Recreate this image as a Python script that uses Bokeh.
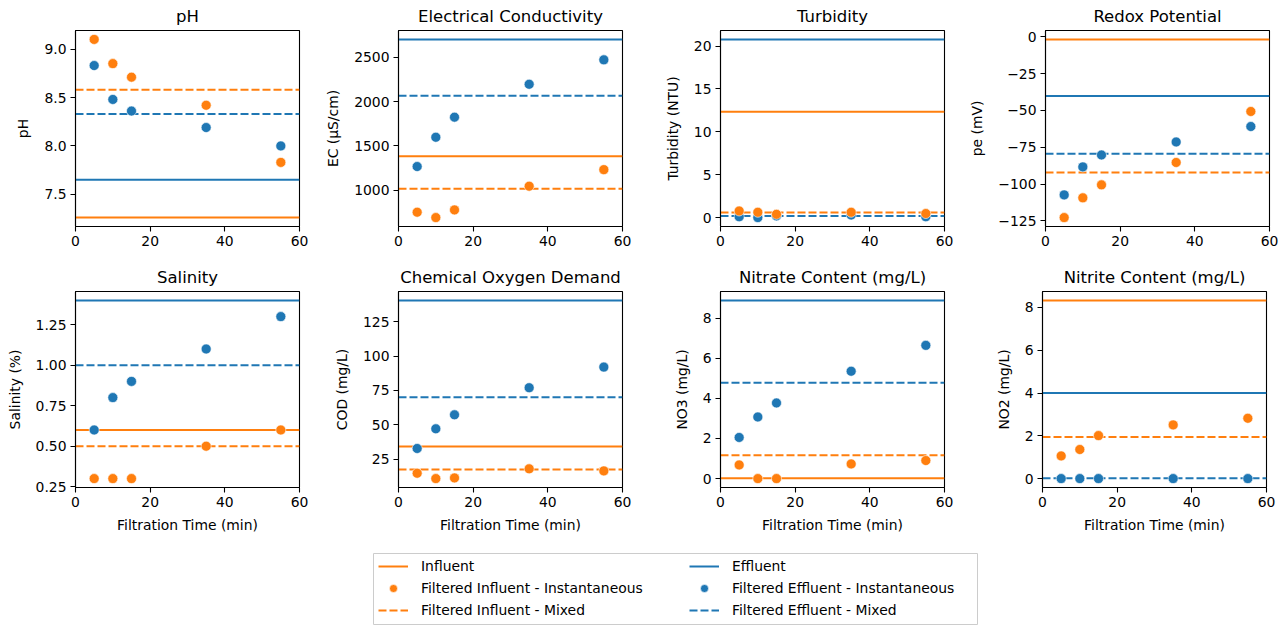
from bokeh.plotting import figure
from bokeh.layouts import column, row
from bokeh.models import (Span, FixedTicker, CustomJSTickFormatter, Legend,
                          LegendItem, Range1d, Spacer)
from bokeh.embed import file_html
from bokeh.resources import INLINE

# ---------------- data ----------------
time_min = [5, 10, 15, 35, 55]
x_ticks = [0, 20, 40, 60]

titles = ["pH", "Electrical Conductivity", "Turbidity", "Redox Potential",
          "Salinity", "Chemical Oxygen Demand", "Nitrate Content (mg/L)",
          "Nitrite Content (mg/L)"]
y_labels = ["pH", "EC (µS/cm)", "Turbidity (NTU)", "pe (mV)", "Salinity (%)",
            "COD (mg/L)", "NO3 (mg/L)", "NO2 (mg/L)"]

# horizontal reference levels, one per parameter
influent_level = [7.26, 1383, 12.34, -1.8, 0.60, 34.3, 0.02, 8.33]
effluent_level = [7.65, 2704, 20.78, -40.2, 1.40, 140.5, 8.88, 4.00]
inf_mixed_level = [8.58, 1015, 0.58, -92.1, 0.50, 17.5, 1.16, 1.95]
eff_mixed_level = [8.33, 2068, 0.19, -79.3, 1.00, 70.0, 4.78, 0.02]

# instantaneous samples
inf_inst_ph = [9.10, 8.85, 8.71, 8.42, 7.83]
eff_inst_ph = [8.83, 8.48, 8.36, 8.19, 8.00]
inf_inst_ec = [751, 690, 777, 1045, 1232]
eff_inst_ec = [1267, 1598, 1825, 2197, 2473]
inf_inst_turb = [0.77, 0.62, 0.38, 0.62, 0.47]
eff_inst_turb = [0.10, 0.00, 0.20, 0.30, 0.10]
inf_inst_redox = [-122.7, -109.3, -100.5, -85.3, -50.7]
eff_inst_redox = [-107.3, -88.3, -80.2, -71.4, -60.9]
inf_inst_sal = [0.3, 0.3, 0.3, 0.5, 0.6]
eff_inst_sal = [0.6, 0.8, 0.9, 1.1, 1.3]
inf_inst_cod = [14.8, 10.9, 11.4, 18.0, 16.5]
eff_inst_cod = [32.8, 47.1, 57.3, 77.0, 92.0]
inf_inst_no3 = [0.68, 0.00, 0.00, 0.73, 0.90]
eff_inst_no3 = [2.05, 3.07, 3.77, 5.35, 6.64]
inf_inst_no2 = [1.06, 1.36, 2.01, 2.51, 2.82]
eff_inst_no2 = [0.00, 0.00, 0.00, 0.00, 0.00]

inf_inst = [inf_inst_ph, inf_inst_ec, inf_inst_turb, inf_inst_redox,
            inf_inst_sal, inf_inst_cod, inf_inst_no3, inf_inst_no2]
eff_inst = [eff_inst_ph, eff_inst_ec, eff_inst_turb, eff_inst_redox,
            eff_inst_sal, eff_inst_cod, eff_inst_no3, eff_inst_no2]

y_ticks = [[7.5, 8.0, 8.5, 9.0],
           [1000, 1500, 2000, 2500],
           [0, 5, 10, 15, 20],
           [-125, -100, -75, -50, -25, 0],
           [0.25, 0.50, 0.75, 1.00, 1.25],
           [25, 50, 75, 100, 125],
           [0, 2, 4, 6, 8],
           [0, 2, 4, 6, 8]]
tick_decimals = [1, 0, 0, 0, 2, 0, 0, 0]

legend_labels = ["Influent", "Filtered Influent - Instantaneous",
                 "Filtered Influent - Mixed", "Effluent",
                 "Filtered Effluent - Instantaneous", "Filtered Effluent - Mixed"]

# ---------------- style ----------------
ORANGE = "#ff7f0e"
BLUE = "#1f77b4"
FONT = "DejaVu Sans"
DASH = "8 3"
LW = 2
PT_SIZE = 10

left_borders = [75, 76, 76, 76]
right_borders = [23, 22, 22, 20]

figs = []
for i in range(8):
    col = i % 4
    bottom_row = i >= 4
    vals = (inf_inst[i] + eff_inst[i] +
            [influent_level[i], effluent_level[i], inf_mixed_level[i], eff_mixed_level[i]])
    lo, hi = min(vals), max(vals)
    pad = 0.05 * (hi - lo)
    p = figure(frame_width=224, frame_height=196,
               min_border_left=left_borders[col], min_border_right=right_borders[col],
               min_border_top=30, min_border_bottom=50 if bottom_row else 35,
               x_range=Range1d(0, 60), y_range=Range1d(lo - pad, hi + pad),
               toolbar_location=None, output_backend="svg", title=titles[i])
    p.title.align = "center"
    p.title.text_font = FONT
    p.title.text_font_size = "16.5px"
    p.title.text_font_style = "normal"
    p.title.text_color = "black"
    p.title.standoff = 9
    p.grid.grid_line_color = None
    p.outline_line_color = "black"
    p.outline_line_width = 1.1
    p.outline_line_alpha = 1
    p.background_fill_color = "white"
    p.border_fill_color = "white"

    for ax in (p.xaxis[0], p.yaxis[0]):
        ax.axis_line_color = "black"
        ax.axis_line_width = 1.1
        ax.major_tick_line_color = "black"
        ax.major_tick_line_width = 1.1
        ax.minor_tick_line_color = None
        ax.major_tick_out = 5
        ax.major_tick_in = 0
        ax.major_label_standoff = 4
        ax.major_label_text_font = FONT
        ax.major_label_text_font_size = "13.9px"
        ax.major_label_text_color = "black"
        ax.axis_label_text_font = FONT
        ax.axis_label_text_font_size = "13.9px"
        ax.axis_label_text_font_style = "normal"
        ax.axis_label_text_color = "black"
    p.xaxis.axis_label_standoff = 7
    p.yaxis.axis_label_standoff = 10

    p.xaxis.ticker = FixedTicker(ticks=x_ticks)
    p.yaxis.ticker = FixedTicker(ticks=y_ticks[i])
    p.yaxis.formatter = CustomJSTickFormatter(
        args=dict(d=tick_decimals[i]),
        code="return tick.toFixed(d).replace('-', '\\u2212');")
    p.yaxis.axis_label = y_labels[i]
    if bottom_row:
        p.xaxis.axis_label = "Filtration Time (min)"

    for level, color, dash in [(influent_level[i], ORANGE, "solid"),
                               (effluent_level[i], BLUE, "solid"),
                               (inf_mixed_level[i], ORANGE, DASH),
                               (eff_mixed_level[i], BLUE, DASH)]:
        p.add_layout(Span(location=level, dimension="width", line_color=color,
                          line_width=LW, line_dash=dash, level="underlay"))

    p.scatter(x=time_min, y=eff_inst[i], size=PT_SIZE, fill_color=BLUE,
              line_color="white", line_width=0.6)
    p.scatter(x=time_min, y=inf_inst[i], size=PT_SIZE, fill_color=ORANGE,
              line_color="white", line_width=0.6)
    figs.append(p)

# ---------------- legend panel ----------------
lf = figure(width=605, height=72, x_axis_type=None, y_axis_type=None,
            x_range=Range1d(0, 1), y_range=Range1d(0, 1), min_border=0,
            toolbar_location=None, output_backend="svg", title=None)
lf.grid.grid_line_color = None
lf.outline_line_color = "#cccccc"
lf.outline_line_width = 1

nan = float("nan")


def proxy():
    # a single undrawable point: legend proxies need one row of style data
    return dict(x=[nan], y=[nan])


r_inf = lf.line(x="x", y="y", source=proxy(), line_color=ORANGE, line_width=LW)
r_inf_i = lf.scatter(x="x", y="y", source=proxy(), size=PT_SIZE, fill_color=ORANGE,
                     line_color="white", line_width=0.6)
r_inf_m = lf.line(x="x", y="y", source=proxy(), line_color=ORANGE, line_width=LW,
                  line_dash=DASH)
r_eff = lf.line(x="x", y="y", source=proxy(), line_color=BLUE, line_width=LW)
r_eff_i = lf.scatter(x="x", y="y", source=proxy(), size=PT_SIZE, fill_color=BLUE,
                     line_color="white", line_width=0.6)
r_eff_m = lf.line(x="x", y="y", source=proxy(), line_color=BLUE, line_width=LW,
                  line_dash=DASH)

groups = [[r_inf, r_inf_i, r_inf_m], [r_eff, r_eff_i, r_eff_m]]
for g, (renders, xloc) in enumerate(zip(groups, [2, 313])):
    items = [LegendItem(label=legend_labels[3 * g + k], renderers=[r])
             for k, r in enumerate(renders)]
    leg = Legend(items=items, location=(xloc, 2), orientation="vertical",
                 padding=3, spacing=2, margin=0, glyph_width=30, glyph_height=20,
                 label_height=20, label_standoff=13, label_text_font=FONT,
                 label_text_font_size="13.9px", label_text_color="black",
                 border_line_alpha=0, background_fill_alpha=0)
    lf.add_layout(leg)

layout = column(row(*figs[:4]), row(*figs[4:]), Spacer(height=16),
                row(Spacer(width=373), lf))

open("out.html", "w", encoding="utf-8").write(file_html(layout, INLINE))
